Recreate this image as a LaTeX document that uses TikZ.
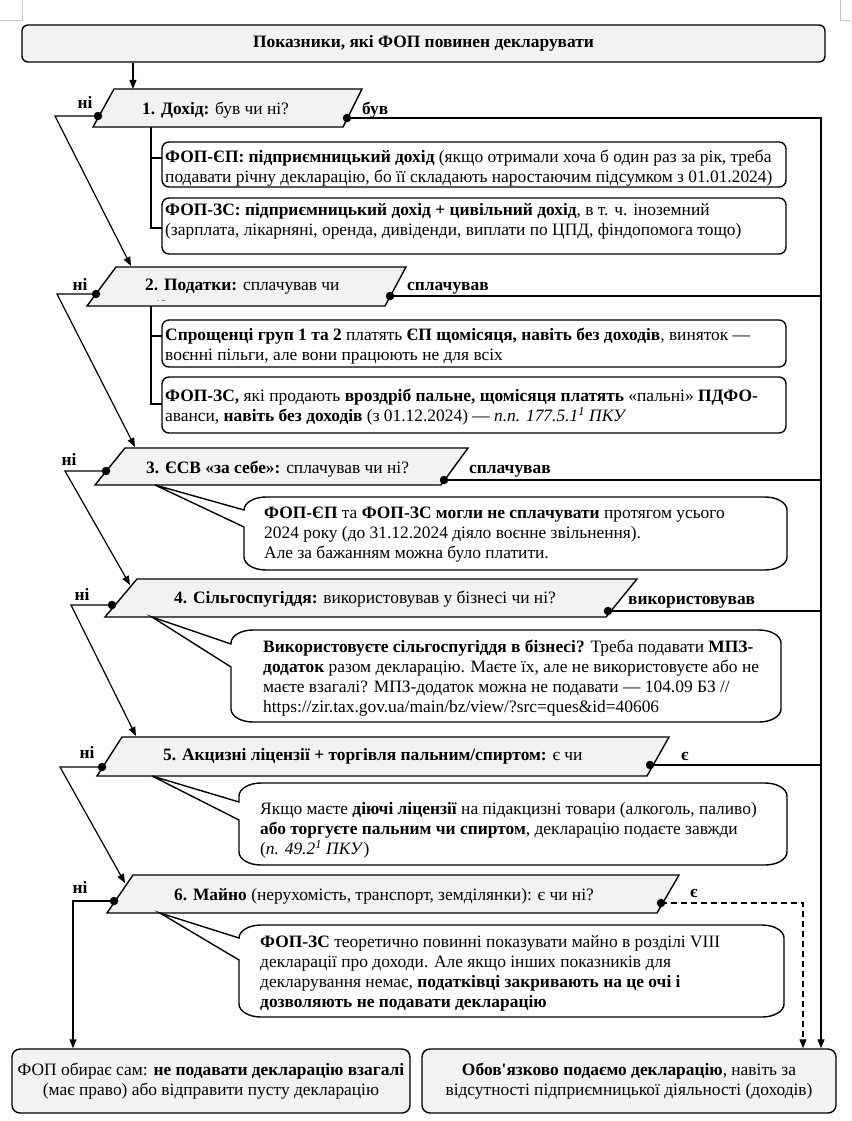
\documentclass[tikz,border=0pt]{standalone}
\usepackage{fontspec}
\setmainfont{Liberation Serif}
\usetikzlibrary{arrows.meta}
\definecolor{qgray}{HTML}{F2F2F2}
\definecolor{markgray}{HTML}{C8C8C8}
\newcommand{\ml}[1]{\begin{tabular}[t]{@{}l@{}}#1\end{tabular}}
\newcommand{\mycallout}[8]{%
  \draw[cbox] (#1,#7) -- (#1,#2+13)
    arc[start angle=180,end angle=90,x radius=22pt,y radius=13pt] -- (#3-22,#2)
    arc[start angle=90,end angle=0,x radius=22pt,y radius=13pt] -- (#3,#4-13)
    arc[start angle=0,end angle=-90,x radius=22pt,y radius=13pt] -- (#1+22,#4)
    arc[start angle=-90,end angle=-180,x radius=22pt,y radius=13pt] -- (#1,#8)
    -- (#5,#6) -- cycle;}
\begin{document}
\begin{tikzpicture}[x=1pt,y=-1pt,
  fnt/.style={font=\fontsize{17.4}{20}\selectfont},
  tl/.style={fnt, inner sep=0pt, anchor=base west},
  lab/.style={font=\fontsize{17.4}{20}\selectfont\bfseries, inner sep=0pt, anchor=base},
  labw/.style={font=\fontsize{17.4}{20}\selectfont\bfseries, inner sep=0pt, anchor=base west},
  qbox/.style={draw, fill=qgray, line width=1.4pt, line join=miter},
  ibox/.style={draw, fill=white, rounded corners=7pt, line width=1.4pt},
  gbox/.style={draw, fill=qgray, rounded corners=8pt, line width=1.4pt, align=center,
    font=\fontsize{17.4}{20}\selectfont},
  cbox/.style={draw, fill=white, line width=1.4pt, line join=miter},
  dotn/.style={circle, fill=black, inner sep=0pt, minimum size=8.5pt},
  ln/.style={line width=1.2pt},
  arr/.style={ln, -{Triangle[length=9pt,width=7pt]}},
  dln/.style={ln, dash pattern=on 6pt off 4pt},
  pm/.style={draw=markgray, line width=0.6pt},
]
\useasboundingbox (0,0) rectangle (851,1121);
% page marks
\draw[pm] (22,0) -- (22,20) -- (0,20);
\draw[pm] (840,0) -- (840,20) -- (851,20);

% title
\node[gbox, rounded corners=6pt, minimum width=803pt, minimum height=37pt,
  font=\fontsize{17.4}{20}\selectfont\bfseries] (title) at (423.5,43.5)
  {Показники, які ФОП повинен декларувати};

% question parallelograms
\draw[qbox] (114,89) -- (362,89) -- (343,127) -- (93,127) -- cycle;
\draw[qbox] (116,267) -- (406,267) -- (385,306) -- (87,306) -- cycle;
\draw[qbox] (125,448) -- (468,448) -- (441,485) -- (95,485) -- cycle;
\draw[qbox] (137,579) -- (637,579) -- (606,617) -- (105,617) -- cycle;
\draw[qbox] (122,737) -- (669,737) -- (647,776) -- (97,776) -- cycle;
\draw[qbox] (133,875) -- (679,875) -- (657,913) -- (107,913) -- cycle;

\node[tl] (q1t) at (142,115) {\textbf{1. Дохід:} був чи ні?};
\node[tl] (q2t) at (145,290) {\textbf{2. Податки:} сплачував чи};
\begin{scope}
  \clip (140,270) rectangle (220,300.5);
  \node[tl] (q2f) at (146,312) {ні?};
\end{scope}
\node[tl] (q3t) at (146,473) {\textbf{3. ЄСВ «за себе»:} сплачував чи ні?};
\node[tl] (q4t) at (174,603) {\textbf{4. Сільгоспугіддя:} використовував у бізнесі чи ні?};
\node[tl] (q5t) at (163,760) {\textbf{5. Акцизні ліцензії + торгівля пальним/спиртом:} є чи};
\begin{scope}
  \clip (150,762) rectangle (240,769.5);
  \node[tl] (q5f) at (163,782) {ні?};
\end{scope}
\node[tl] (q6t) at (174,900) {\textbf{6. Майно} (нерухомість, транспорт, земділянки): є чи ні?};

% info boxes
\draw[ibox] (162,142) rectangle (786,187);
\draw[ibox] (162,198) rectangle (786,254);
\draw[ibox] (162,320) rectangle (786,367);
\draw[ibox] (162,377) rectangle (786,433);

\node[tl] (b1t) at (165,162) {\ml{\textbf{ФОП-ЄП: підприємницький дохід} (якщо отримали хоча б один раз за рік, треба\\подавати річну декларацію, бо її складають наростаючим підсумком з 01.01.2024)}};
\node[tl] (b2t) at (165,215) {\ml{\textbf{ФОП-ЗС: підприємницький дохід + цивільний дохід}, в т. ч. іноземний\\(зарплата, лікарняні, оренда, дивіденди, виплати по ЦПД, фіндопомога тощо)}};
\node[tl] (b3t) at (165,340) {\ml{\textbf{Спрощенці груп 1 та 2} платять \textbf{ЄП щомісяця, навіть без доходів}, виняток —\\воєнні пільги, але вони працюють не для всіх}};
\node[tl] (b4t) at (165,401) {\ml{\textbf{ФОП-ЗС,} які продають \textbf{вроздріб пальне, щомісяця платять} «пальні» \textbf{ПДФО-}\\аванси, \textbf{навіть без доходів} (з 01.12.2024) — \textit{п.п. 177.5.1\textsuperscript{1} ПКУ}}};

% callouts
\mycallout{244}{497}{787}{570}{155}{485}{510}{527}
\mycallout{231}{630}{781}{722}{152}{617}{644}{667}
\mycallout{239}{783}{787}{865}{152}{776}{802}{820}
\mycallout{239}{925}{784}{1017}{160}{913}{938}{960}

\node[tl] (c3t) at (264,518) {\ml{\textbf{ФОП-ЄП} та \textbf{ФОП-ЗС могли не сплачувати} протягом усього\\2024 року (до 31.12.2024 діяло воєнне звільнення).\\Але за бажанням можна було платити.}};
\node[tl] (c4t) at (263,652) {\ml{\textbf{Використовуєте сільгоспугіддя в бізнесі?} Треба подавати \textbf{МПЗ-}\\\textbf{додаток} разом декларацію. Маєте їх, але не використовуєте або не\\маєте взагалі? МПЗ-додаток можна не подавати — 104.09 БЗ //\\https://zir.tax.gov.ua/main/bz/view/?src=ques\&id=40606}};
\node[tl] (c5t) at (260,814) {\ml{Якщо маєте \textbf{діючі ліцензії} на підакцизні товари (алкоголь, паливо)\\\textbf{або торгуєте пальним чи спиртом}, декларацію подаєте завжди\\(\textit{п. 49.2\textsuperscript{1} ПКУ})}};
\node[tl] (c6t) at (260,947) {\ml{\textbf{ФОП-ЗС} теоретично повинні показувати майно в розділі VIII\\декларації про доходи. Але якщо інших показників для\\декларування немає, \textbf{податківці закривають на це очі і}\\\textbf{дозволяють не подавати декларацію}}};

% bottom boxes
\node[gbox, minimum width=398pt, minimum height=64pt] (endl) at (211,1081)
  {ФОП обирає сам: \textbf{не подавати декларацію взагалі}\\(має право) або відправити пусту декларацію};
\node[gbox, minimum width=414pt, minimum height=64pt] (endr) at (629,1081)
  {\textbf{Обов\textquotesingle язково подаємо декларацію}, навіть за\\відсутності підприємницької діяльності (доходів)};

% coordinates of junction dots
\coordinate (c1l) at (98,116);  \coordinate (c1r) at (347,118);
\coordinate (c2l) at (96,294);  \coordinate (c2r) at (390,296);
\coordinate (c3l) at (106,471); \coordinate (c3r) at (444,480);
\coordinate (c4l) at (112,605); \coordinate (c4r) at (608,611);
\coordinate (c5l) at (102,767); \coordinate (c5r) at (650,765);
\coordinate (c6l) at (114,901); \coordinate (c6r) at (661,903);

% left "no" connectors
\coordinate (n1) at (55,116);  \coordinate (q2in) at (131,266);
\coordinate (n2) at (57,294);  \coordinate (q3in) at (135,447);
\coordinate (n3) at (65,471);  \coordinate (q4in) at (130,585);
\coordinate (n4) at (71,605);  \coordinate (q5in) at (136,736);
\coordinate (n5) at (60,767);  \coordinate (q6in) at (125,883);
\coordinate (n6) at (73,901);
\coordinate (q1in) at (133,89);
\draw[arr] (title.south -| q1in) -- (q1in);
\draw[arr] (c1l) -- (n1) -- (q2in);
\draw[arr] (c2l) -- (n2) -- (q3in);
\draw[arr] (c3l) -- (n3) -- (q4in);
\draw[arr] (c4l) -- (n4) -- (q5in);
\draw[arr] (c5l) -- (n5) -- (q6in);
\draw[arr] (c6l) -- (n6) -- (n6 |- endl.north);

% right "yes" connectors
\coordinate (rtop) at (821,118);
\draw[arr] (c1r) -- (rtop) -- (rtop |- endr.north);
\draw[ln] (c2r) -- (c2r -| rtop);
\draw[ln] (c3r) -- (c3r -| rtop);
\draw[ln] (c4r) -- (c4r -| rtop);
\draw[ln] (c5r) -- (c5r -| rtop);
\coordinate (dcorner) at (803,903);
\draw[dln, -{Triangle[length=9pt,width=7pt]}] (c6r) -- (dcorner) -- (dcorner |- endr.north);

% brackets from questions to info boxes
\coordinate (v1a) at (151,127); \coordinate (v1b) at (151,158); \coordinate (v1c) at (151,228);
\draw[ln] (v1a) -- (v1c) -- ++(11,0);
\draw[ln] (v1b) -- ++(11,0);
\coordinate (v2a) at (151,306); \coordinate (v2b) at (151,336); \coordinate (v2c) at (151,404);
\draw[ln] (v2a) -- (v2c) -- ++(11,0);
\draw[ln] (v2b) -- ++(11,0);

% labels
\node[lab] (no1) at (85,109) {ні};
\node[lab] (no2) at (80,290) {ні};
\node[lab] (no3) at (69,465) {ні};
\node[lab] (no4) at (82,600) {ні};
\node[lab] (no5) at (87,758) {ні};
\node[lab] (no6) at (80,893) {ні};
\node[labw] (yes1) at (362,115) {був};
\node[labw] (yes2) at (407,290) {сплачував};
\node[labw] (yes3) at (469,473) {сплачував};
\node[labw] (yes4) at (628,604) {використовував};
\node[labw] (yes5) at (681,760) {є};
\node[labw] (yes6) at (690,897) {є};

% dots
\foreach \c in {c1l,c1r,c2l,c2r,c3l,c3r,c4l,c4r,c5l,c5r,c6l,c6r}
  \node[dotn] (dot-\c) at (\c) {};
\end{tikzpicture}
\end{document}
